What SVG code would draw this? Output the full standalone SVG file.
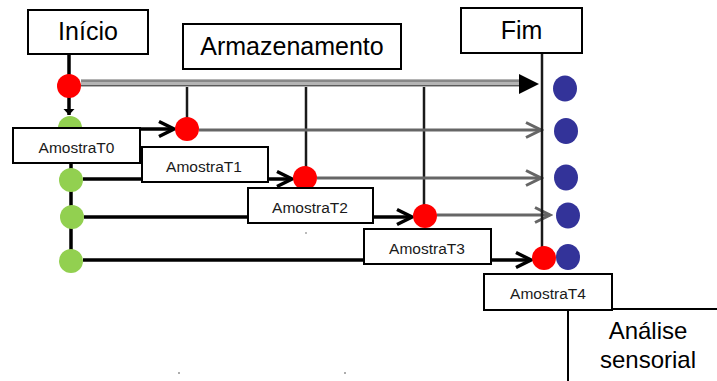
<svg xmlns="http://www.w3.org/2000/svg" width="717" height="381" viewBox="0 0 717 381">
<defs>
<style>
.box{fill:#fff;stroke:#000;stroke-width:2}
.big{font-family:"Liberation Sans",Arial,sans-serif;font-size:25px;fill:#000;text-anchor:middle}
.small{font-family:"Liberation Sans",Arial,sans-serif;font-size:15.5px;fill:#1a1a1a;text-anchor:middle}
.blk{stroke:#000;stroke-width:3.5;fill:none}
.gry{stroke:#666;stroke-width:3;fill:none}
.vl{stroke:#1a1a1a;stroke-width:2.5;fill:none}
.thin{stroke:#000;stroke-width:2;fill:none}
.red{fill:#ff0000}
.grn{fill:#92d050}
.blu{fill:#333399}
.dot{fill:#444}
</style>
<marker id="chevK" markerUnits="userSpaceOnUse" markerWidth="20" markerHeight="20" viewBox="0 0 20 20" refX="17" refY="10" orient="auto">
<path d="M2,2.5 L17,10 L2,17.5" fill="none" stroke="#000" stroke-width="3.5"/>
</marker>
<marker id="chevG" markerUnits="userSpaceOnUse" markerWidth="20" markerHeight="20" viewBox="0 0 20 20" refX="17" refY="10" orient="auto">
<path d="M2,2.5 L17,10 L2,17.5" fill="none" stroke="#666" stroke-width="3"/>
</marker>
<marker id="triK" markerUnits="userSpaceOnUse" markerWidth="12" markerHeight="12" viewBox="0 0 12 12" refX="10" refY="6" orient="auto">
<path d="M4,0.5 L10,6 L4,11.5 Z" fill="#000"/>
</marker>
</defs>

<g id="connectors">
<line class="blk" x1="69" y1="54" x2="69" y2="75"/>
<line class="blk" x1="69" y1="97" x2="69" y2="115" marker-end="url(#triK)"/>
<line x1="81" y1="83" x2="521" y2="83" stroke="#b4b4b4" stroke-width="8"/>
<line x1="81" y1="81" x2="521" y2="81" stroke="#5a5a5a" stroke-width="1.2"/>
<line x1="81" y1="85.5" x2="521" y2="85.5" stroke="#5a5a5a" stroke-width="1.2"/>
<polygon points="519,74 539,84 519,94" fill="#000"/>
<line class="vl" x1="187" y1="87" x2="187" y2="118"/>
<line class="vl" x1="306" y1="87" x2="306" y2="167"/>
<line class="vl" x1="424" y1="87" x2="424" y2="205"/>
<line class="blk" x1="71" y1="128" x2="71" y2="261"/>
<line class="blk" x1="82" y1="129" x2="174" y2="129" marker-end="url(#chevK)"/>
<line class="blk" x1="83" y1="179" x2="292" y2="179" marker-end="url(#chevK)"/>
<line class="blk" x1="84" y1="217" x2="412" y2="217" marker-end="url(#chevK)"/>
<line class="blk" x1="83" y1="260" x2="531" y2="260" marker-end="url(#chevK)"/>
<line class="gry" x1="199" y1="130" x2="541" y2="130" marker-end="url(#chevG)"/>
<line class="gry" x1="317" y1="178" x2="541" y2="178" marker-end="url(#chevG)"/>
<line class="gry" x1="437" y1="215" x2="550" y2="215" marker-end="url(#chevG)"/>
<line class="vl" x1="542" y1="53" x2="542" y2="248"/>
<line class="thin" x1="612" y1="309" x2="717" y2="309"/>
<line class="thin" x1="568" y1="309" x2="568" y2="381"/>
</g>

<g id="red-points">
<circle class="red" cx="69" cy="86" r="12"/>
<circle class="red" cx="187" cy="129" r="12"/>
<circle class="red" cx="305" cy="178" r="12"/>
<circle class="red" cx="425" cy="216" r="12"/>
<circle class="red" cx="544" cy="258" r="12"/>
</g>
<g id="green-points">
<circle class="grn" cx="70" cy="128" r="12"/>
<circle class="grn" cx="71" cy="180" r="12"/>
<circle class="grn" cx="72" cy="217" r="12"/>
<circle class="grn" cx="71" cy="261" r="12"/>
</g>
<g id="blue-points">
<ellipse class="blu" cx="565" cy="88.5" rx="12" ry="13"/>
<ellipse class="blu" cx="566" cy="131" rx="12" ry="13"/>
<ellipse class="blu" cx="566" cy="177.5" rx="12" ry="13"/>
<ellipse class="blu" cx="568" cy="215.5" rx="12" ry="13"/>
<ellipse class="blu" cx="568" cy="257" rx="12" ry="13"/>
</g>

<g id="inicio"><rect class="box" x="28" y="10" width="120" height="44"/><text class="big" x="88" y="40">Início</text></g>
<g id="armazenamento"><rect class="box" x="183" y="24" width="218" height="45"/><text class="big" x="292" y="55">Armazenamento</text></g>
<g id="fim"><rect class="box" x="461" y="8" width="121" height="45"/><text class="big" x="521.5" y="39">Fim</text></g>
<g id="amostraT0"><rect class="box" x="13" y="128" width="127" height="35"/><text class="small" x="76.5" y="152.5">AmostraT0</text></g>
<g id="amostraT1"><rect class="box" x="142" y="147" width="126" height="35"/><text class="small" x="204" y="171.5">AmostraT1</text></g>
<g id="amostraT2"><rect class="box" x="248" y="188" width="125" height="35"/><text class="small" x="310" y="212.5">AmostraT2</text></g>
<g id="amostraT3"><rect class="box" x="364" y="229" width="127" height="35"/><text class="small" x="427" y="253.5">AmostraT3</text></g>
<g id="amostraT4"><rect class="box" x="484" y="274" width="128" height="36"/><text class="small" x="548" y="298.5">AmostraT4</text></g>
<g id="analise"><text class="big" style="font-size:24px" x="648" y="339">Análise</text><text class="big" style="font-size:24px" x="648" y="368">sensorial</text></g>

<circle class="dot" cx="179" cy="373" r="0.8"/>
<circle class="dot" cx="345" cy="373" r="0.8"/>
<circle class="dot" cx="306" cy="233" r="0.7"/>
</svg>
